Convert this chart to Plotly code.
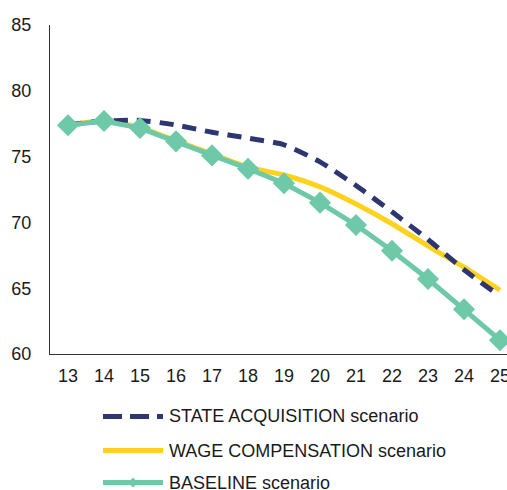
import plotly.graph_objects as go

years = [13, 14, 15, 16, 17, 18, 19, 20, 21, 22, 23, 24, 25]
state_acq = [77.4, 77.7, 77.75, 77.4, 76.85, 76.4, 75.9, 74.6, 72.8, 70.8, 68.7, 66.4, 64.4]
wage_comp = [77.4, 77.7, 77.2, 76.2, 75.2, 74.2, 73.6, 72.7, 71.4, 69.9, 68.2, 66.6, 64.85]
baseline = [77.38, 77.7, 77.17, 76.16, 75.09, 74.08, 72.98, 71.5, 69.8, 67.85, 65.7, 63.4, 61.05]
y_ticks = [60, 65, 70, 75, 80, 85]

names = ["STATE ACQUISITION scenario", "WAGE COMPENSATION scenario", "BASELINE scenario"]
NAVY = "#2D3670"
YELLOW = "#FFD21F"
TEAL = "#6DC9A8"
FONT = "Liberation Sans, Arial"

W, H = 507, 490
ml, mr, mt = 50, 0, 25
axis_y = 354
mb = H - axis_y
pw, ph = W - ml - mr, H - mt - mb

fig = go.Figure()
fig.add_trace(go.Scatter(x=years, y=wage_comp, name=names[1], mode="lines",
                         line=dict(color=YELLOW, width=5, shape="spline", smoothing=0.6),
                         showlegend=False, cliponaxis=False))
fig.add_trace(go.Scatter(x=years, y=state_acq, name=names[0], mode="lines",
                         line=dict(color=NAVY, width=5, dash="14px,9px", shape="spline", smoothing=0.6),
                         showlegend=False, cliponaxis=False))
fig.add_trace(go.Scatter(x=years, y=baseline, name=names[2], mode="lines+markers",
                         line=dict(color=TEAL, width=5),
                         marker=dict(symbol="diamond", size=17, color=TEAL),
                         showlegend=False, cliponaxis=False))


def px_x(p):
    return (p - ml) / pw


def px_y(p):
    return (axis_y - p) / ph


# manual legend below the plot (pixel positions)
rows = [416.5, 450.5, 482.5]
x0, x1, xt = 103, 163, 167
styles = [dict(color=NAVY, width=5, dash="19px,8px"),
          dict(color=YELLOW, width=5),
          dict(color=TEAL, width=5)]
for r, st, nm in zip(rows, styles, names):
    fig.add_shape(type="line", xref="paper", yref="paper",
                  x0=px_x(x0), x1=px_x(x1), y0=px_y(r), y1=px_y(r), line=st)
    fig.add_annotation(xref="paper", yref="paper", x=px_x(xt), y=px_y(r),
                       text=nm, showarrow=False, xanchor="left", yanchor="middle",
                       font=dict(family=FONT, size=18, color="#1a1a1a"))
cx, cy = 133, rows[2]
d = 5
path = "M {} {} L {} {} L {} {} L {} {} Z".format(
    px_x(cx - d), px_y(cy), px_x(cx), px_y(cy - d), px_x(cx + d), px_y(cy), px_x(cx), px_y(cy + d))
fig.add_shape(type="path", xref="paper", yref="paper", path=path,
              fillcolor=TEAL, line=dict(color=TEAL, width=0))

fig.update_layout(
    width=W, height=H,
    margin=dict(l=ml, r=mr, t=mt, b=mb, pad=0),
    paper_bgcolor="white", plot_bgcolor="white",
    template="none",
    font=dict(family=FONT, size=18, color="#1a1a1a"),
    showlegend=False,
)
fig.update_xaxes(range=[12.5, 12.5 + pw / 36.0], tickmode="array", tickvals=years,
                 ticktext=[str(v) for v in years], showgrid=False, zeroline=False,
                 showline=True, linecolor="#333", linewidth=1, ticks="", ticklabelstandoff=5,
                 ticklabeloverflow="allow", automargin=False)
fig.update_yaxes(range=[60, 85], tickmode="array", tickvals=y_ticks, showgrid=False,
                 zeroline=False, showline=True, linecolor="#333", linewidth=1, ticks="",
                 ticklabelstandoff=14, automargin=False)

fig.write_html("out.html", config={"displayModeBar": False},
               post_script="document.body.style.margin='0';document.body.style.overflow='hidden';")
